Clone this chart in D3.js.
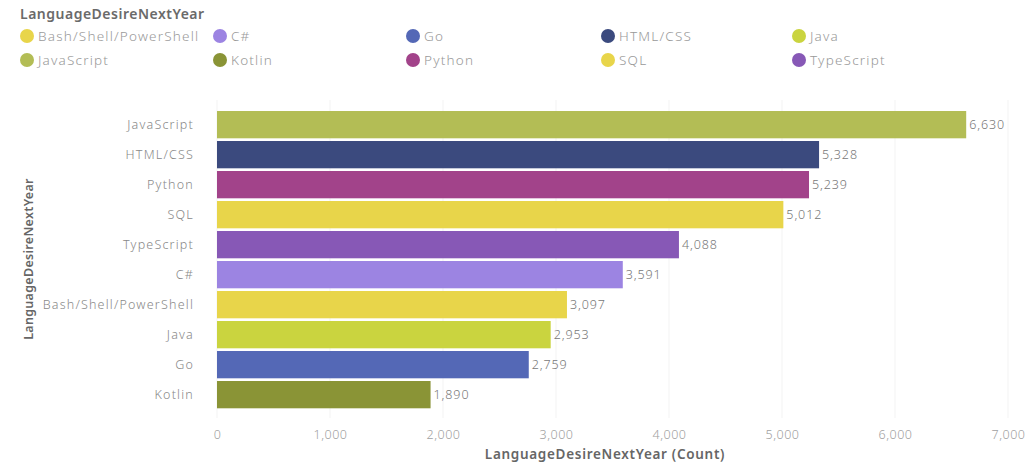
<!DOCTYPE html>
<html><head><meta charset="utf-8">
<script src="https://cdn.jsdelivr.net/npm/d3@7"></script>
<style>
body{margin:0;background:#fff;}
svg{display:block;font-family:"Noto Sans",sans-serif;}
</style></head>
<body><svg id="c" width="1030" height="465"></svg>
<script>
const categories = ["JavaScript","HTML/CSS","Python","SQL","TypeScript","C#","Bash/Shell/PowerShell","Java","Go","Kotlin"];
const counts = [6630,5328,5239,5012,4088,3591,3097,2953,2759,1890];
const legendOrder = ["Bash/Shell/PowerShell","C#","Go","HTML/CSS","Java","JavaScript","Kotlin","Python","SQL","TypeScript"];
const colorList = ["#e8d54a","#9c84e2","#5468b6","#3b4a7e","#cad43f","#b3bd55","#8a9436","#a2438a","#e8d54a","#8758b6"];
const xTicks = [0,1000,2000,3000,4000,5000,6000,7000];
const legendTitle = "LanguageDesireNextYear";
const xTitle = "LanguageDesireNextYear (Count)";
const yTitle = "LanguageDesireNextYear";

const svg = d3.select("#c");
const color = d3.scaleOrdinal().domain(legendOrder).range(colorList);
const x = d3.scaleLinear().domain([0,7000]).range([217,1008]);
const y = d3.scaleBand().domain(categories).range([109.65,409.65]).paddingInner(0.09).paddingOuter(0.045);
const fmt = d3.format(",");

// gridlines
svg.append("g").selectAll("line").data(xTicks).join("line")
  .attr("x1",d=>x(d)).attr("x2",d=>x(d)).attr("y1",100).attr("y2",418)
  .attr("stroke","#f3f3f3").attr("stroke-width",1);

// bars
svg.append("g").selectAll("rect").data(categories).join("rect")
  .attr("x",x(0)).attr("y",d=>y(d)).attr("height",y.bandwidth())
  .attr("width",(d,i)=>x(counts[i])-x(0)).attr("fill",d=>color(d));

// value labels
svg.append("g").selectAll("text").data(categories).join("text")
  .attr("x",(d,i)=>x(counts[i])+3).attr("y",d=>y(d)+y.bandwidth()/2)
  .attr("dy","0.35em").attr("font-size",12.5).attr("font-weight",300)
  .attr("letter-spacing","0.9px").attr("fill","#777")
  .text((d,i)=>fmt(counts[i]));

// y axis
const yAxis = svg.append("g").attr("transform",`translate(${x(0)-23},0)`)
  .call(d3.axisLeft(y).tickSize(0).tickPadding(0));
yAxis.select(".domain").remove();
yAxis.selectAll("text").attr("font-size",12.5).attr("font-weight",300)
  .attr("letter-spacing","1.2px").attr("fill","#888").attr("font-family","Noto Sans");

// x axis
const xAxis = svg.append("g").attr("transform","translate(0,426)")
  .call(d3.axisBottom(x).tickValues(xTicks).tickFormat(fmt).tickSize(0).tickPadding(4));
xAxis.select(".domain").remove();
xAxis.selectAll("text").attr("font-size",12.5).attr("font-weight",300)
  .attr("letter-spacing","0.5px").attr("fill","#a0a0a0").attr("font-family","Noto Sans");

// axis titles
svg.append("text").attr("x",605).attr("y",459).attr("text-anchor","middle")
  .attr("font-size",13.5).attr("font-weight",600).attr("letter-spacing","0.7px")
  .attr("fill","#666").text(xTitle);
svg.append("text").attr("transform","translate(33,259) rotate(-90)").attr("text-anchor","middle")
  .attr("font-size",12.5).attr("font-weight",600).attr("letter-spacing","0.3px")
  .attr("fill","#666").text(yTitle);

// legend
svg.append("text").attr("x",20).attr("y",19).attr("font-size",14).attr("font-weight",600)
  .attr("letter-spacing","0.5px").attr("fill","#6a6a6a").text(legendTitle);
const colX = [27,220,413,608,799];
const rowY = [36,60];
const lg = svg.append("g").selectAll("g").data(legendOrder).join("g")
  .attr("transform",(d,i)=>`translate(${colX[i%5]},${rowY[Math.floor(i/5)]})`);
lg.append("circle").attr("r",7).attr("fill",d=>color(d));
lg.append("text").attr("x",11).attr("dy","0.35em").attr("font-size",13.5).attr("font-weight",300)
  .attr("letter-spacing","1.2px").attr("fill","#999").text(d=>d);
</script></body></html>
